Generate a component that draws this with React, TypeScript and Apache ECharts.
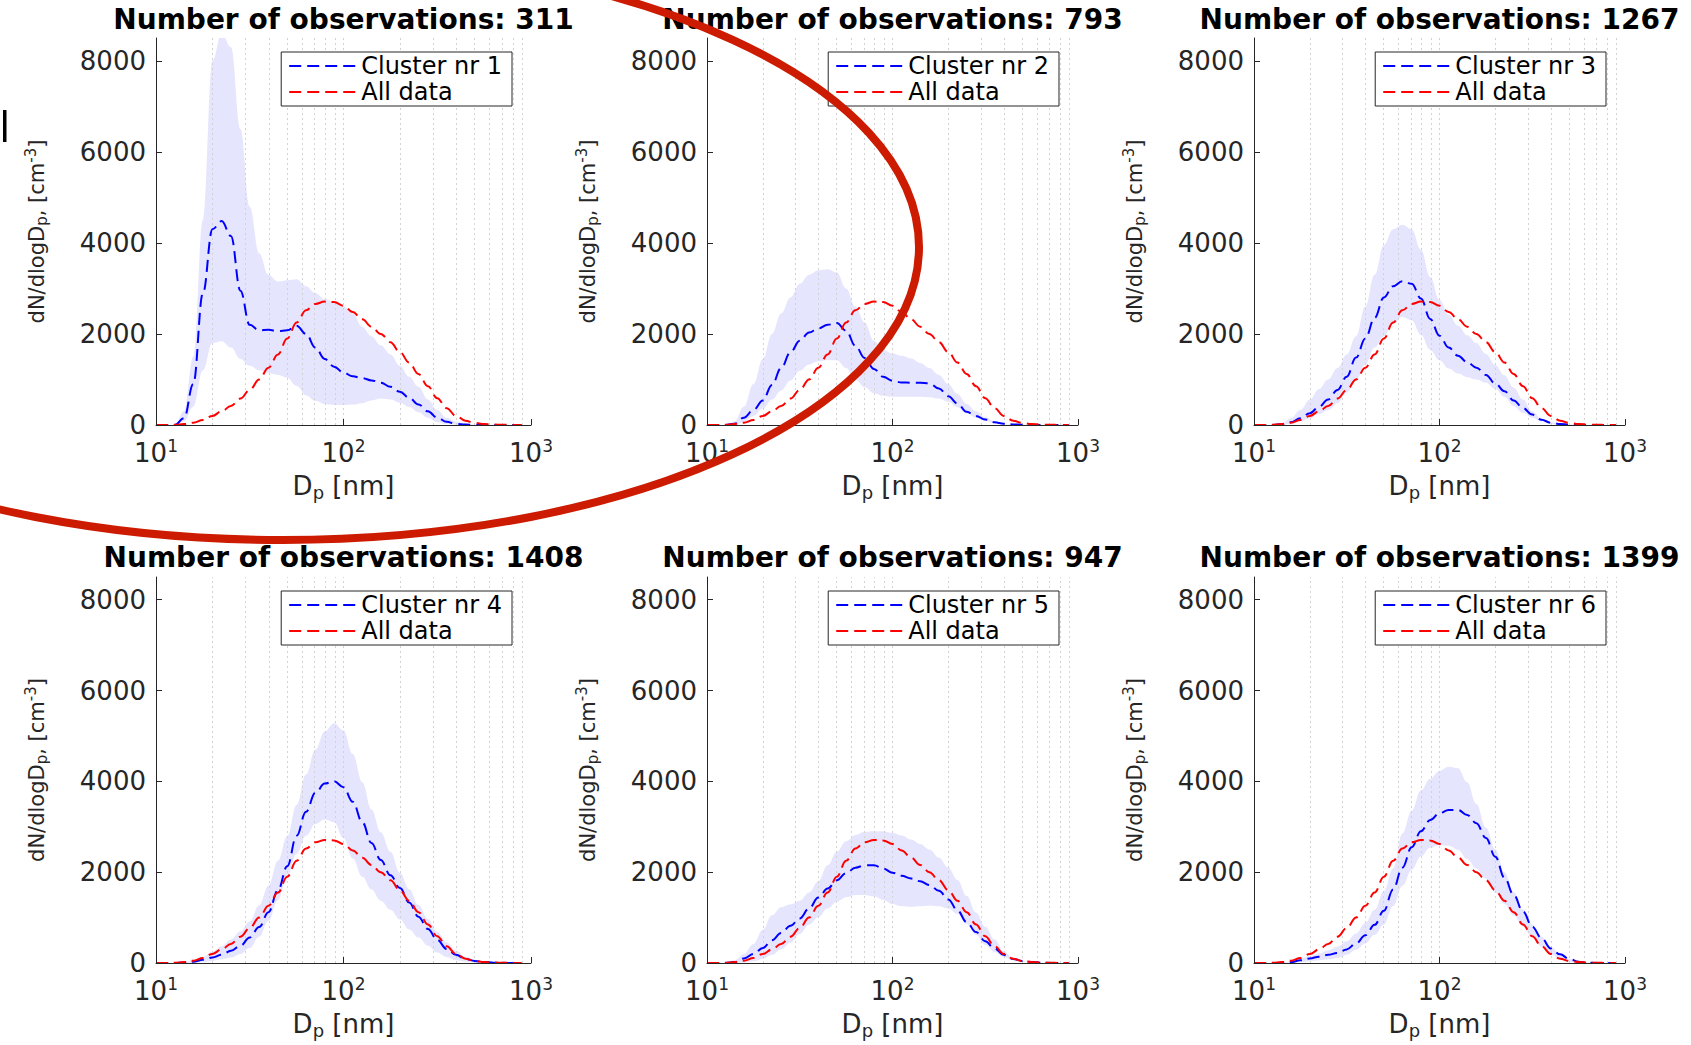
import React, { useEffect, useRef } from 'react';
import * as echarts from 'echarts';

// ---------------- data ----------------
const diameters = [10, 11.2, 12.6, 14.1, 15.8, 17.8, 20, 22.4, 25.1, 28.2, 31.6, 35.5, 39.8, 44.7, 50.1, 56.2, 63.1, 70.8, 79.4, 89.1, 100, 112, 126, 141, 158, 178, 200, 224, 251, 282, 316, 355, 398, 447, 501, 562, 631, 708, 794, 891];

const allData = [0, 0, 5, 20, 50, 110, 200, 300, 420, 580, 770, 1000, 1260, 1550, 1900, 2250, 2520, 2660, 2710, 2700, 2620, 2480, 2320, 2160, 2000, 1820, 1600, 1370, 1120, 850, 590, 370, 200, 95, 45, 20, 10, 5, 2, 0];

const cluster1 = [0, 0, 0, 150, 900, 2900, 4300, 4480, 4150, 2950, 2200, 2080, 2090, 2060, 2080, 2180, 2000, 1700, 1450, 1280, 1150, 1070, 1030, 980, 930, 840, 730, 600, 450, 300, 160, 70, 25, 10, 5, 2, 0, 0, 0, 0];
const band1Lower = [0, 0, 0, 80, 400, 1200, 1800, 1840, 1700, 1450, 1300, 1200, 1140, 1100, 1040, 860, 650, 530, 460, 440, 440, 450, 480, 540, 580, 560, 490, 400, 280, 160, 60, 20, 5, 0, 0, 0, 0, 0, 0, 0];
const band1Upper = [0, 0, 0, 300, 1500, 4500, 8000, 8600, 8300, 6500, 4800, 3770, 3300, 3150, 3180, 3200, 3050, 2900, 2760, 2700, 2600, 2450, 2150, 1950, 1750, 1550, 1300, 1060, 840, 560, 330, 160, 73, 25, 8, 0, 0, 0, 0, 0];

const cluster2 = [0, 0, 0, 30, 160, 330, 540, 880, 1250, 1600, 1850, 2030, 2120, 2200, 2240, 2070, 1740, 1470, 1230, 1060, 970, 935, 930, 930, 915, 800, 630, 470, 290, 200, 120, 60, 30, 12, 5, 2, 0, 0, 0, 0];
const band2Lower = [0, 0, 0, 10, 60, 200, 360, 560, 760, 980, 1190, 1330, 1400, 1430, 1420, 1250, 1000, 830, 700, 640, 620, 620, 620, 620, 610, 580, 510, 390, 250, 160, 90, 45, 15, 5, 0, 0, 0, 0, 0, 0];
const band2Upper = [0, 0, 0, 80, 400, 900, 1450, 2000, 2450, 2800, 3100, 3300, 3400, 3420, 3350, 3000, 2600, 2250, 1850, 1650, 1570, 1520, 1460, 1360, 1250, 1100, 900, 680, 460, 300, 170, 80, 35, 15, 5, 0, 0, 0, 0, 0];

const cluster3 = [0, 0, 0, 20, 60, 150, 260, 400, 560, 770, 1060, 1480, 1900, 2350, 2800, 3050, 3160, 3100, 2780, 2330, 1960, 1700, 1520, 1380, 1260, 1100, 910, 740, 540, 370, 230, 115, 50, 20, 10, 5, 2, 0, 0, 0];
const band3Lower = [0, 0, 0, 10, 30, 80, 150, 240, 330, 480, 720, 980, 1330, 1700, 1950, 2230, 2370, 2300, 1980, 1650, 1420, 1240, 1130, 1050, 1000, 930, 790, 620, 420, 270, 160, 80, 30, 10, 0, 0, 0, 0, 0, 0];
const band3Upper = [0, 0, 0, 40, 150, 330, 560, 790, 1000, 1250, 1550, 1950, 2600, 3300, 3950, 4300, 4400, 4300, 3850, 3250, 2750, 2420, 2180, 1970, 1800, 1560, 1320, 1090, 820, 560, 300, 140, 60, 25, 10, 5, 2, 0, 0, 0];

const cluster4 = [0, 0, 0, 10, 30, 70, 120, 180, 270, 380, 560, 790, 1120, 1600, 2130, 2800, 3330, 3750, 3950, 4000, 3870, 3550, 3100, 2640, 2270, 1930, 1650, 1330, 1020, 750, 510, 310, 180, 90, 45, 20, 8, 3, 0, 0];
const band4Lower = [0, 0, 0, 0, 10, 25, 45, 80, 120, 200, 330, 580, 930, 1390, 1900, 2400, 2800, 3060, 3160, 3100, 2750, 2300, 1900, 1620, 1370, 1170, 960, 740, 560, 380, 230, 130, 60, 25, 10, 0, 0, 0, 0, 0];
const band4Upper = [0, 0, 0, 20, 60, 140, 250, 370, 520, 700, 920, 1270, 1700, 2250, 2790, 3480, 4150, 4700, 5100, 5280, 5120, 4600, 3980, 3380, 2880, 2450, 1990, 1630, 1280, 970, 690, 450, 270, 140, 70, 30, 10, 3, 0, 0];

const cluster5 = [0, 0, 0, 20, 100, 200, 330, 500, 660, 820, 980, 1200, 1440, 1640, 1820, 1980, 2100, 2150, 2150, 2080, 1990, 1920, 1860, 1800, 1720, 1590, 1400, 1160, 900, 680, 480, 320, 180, 90, 45, 20, 8, 0, 0, 0];
const band5Lower = [0, 0, 0, 0, 10, 40, 90, 180, 300, 450, 640, 850, 1010, 1200, 1350, 1450, 1500, 1500, 1470, 1390, 1300, 1250, 1240, 1250, 1260, 1250, 1200, 1080, 860, 620, 400, 240, 130, 60, 20, 5, 0, 0, 0, 0];
const band5Upper = [0, 0, 0, 60, 200, 420, 730, 1050, 1230, 1290, 1370, 1550, 1800, 2150, 2450, 2680, 2820, 2890, 2900, 2900, 2860, 2810, 2720, 2620, 2500, 2320, 2100, 1830, 1480, 1110, 800, 520, 260, 110, 40, 15, 0, 0, 0, 0];

const cluster6 = [0, 0, 0, 5, 20, 60, 100, 140, 180, 220, 300, 430, 610, 840, 1150, 1620, 2100, 2550, 2900, 3150, 3300, 3370, 3370, 3260, 3080, 2750, 2340, 1880, 1500, 1130, 800, 550, 320, 190, 90, 30, 8, 0, 0, 0];
const band6Lower = [0, 0, 0, 0, 5, 20, 40, 60, 80, 110, 180, 290, 430, 620, 850, 1250, 1700, 2050, 2350, 2540, 2600, 2580, 2490, 2290, 2080, 1860, 1560, 1300, 1050, 800, 570, 360, 200, 95, 30, 10, 0, 0, 0, 0];
const band6Upper = [0, 0, 0, 10, 40, 100, 150, 210, 280, 360, 480, 650, 880, 1170, 1580, 2080, 2850, 3350, 3800, 4060, 4230, 4320, 4290, 3980, 3500, 2980, 2500, 2000, 1560, 1180, 850, 580, 360, 200, 90, 35, 8, 0, 0, 0];

const observations = [311, 793, 1267, 1408, 947, 1399];
const clusterLabels = ['Cluster nr 1', 'Cluster nr 2', 'Cluster nr 3', 'Cluster nr 4', 'Cluster nr 5', 'Cluster nr 6'];
const allDataLabel = 'All data';
const yTickValues = [0, 2000, 4000, 6000, 8000];
const minorGridDiameters = [20, 30, 40, 50, 60, 70, 80, 90, 100, 200, 300, 400, 500, 600, 700, 800, 900];

const clusterMeans = [cluster1, cluster2, cluster3, cluster4, cluster5, cluster6];
const bandLowers = [band1Lower, band2Lower, band3Lower, band4Lower, band5Lower, band6Lower];
const bandUppers = [band1Upper, band2Upper, band3Upper, band4Upper, band5Upper, band6Upper];

// ---------------- layout & style ----------------
const W = 1691;
const H = 1045;
const PANEL_LEFT = [156, 707, 1254];
const PANEL_WIDTH = [375, 371, 371];
const PANEL_TOP = [38, 577];
const PANEL_HEIGHT = [387, 386];
const TITLE_TOP = [5, 543];
const LEGEND_TOP = [52, 591];
const FONT = 'DejaVu Sans';
const AXIS = '#262626';
const BLUE = '#0000ff';
const RED = '#ff0000';
const BAND = '#e5e5fd';

function pairs(ys: number[]) {
  return diameters.map((d, k) => [d, ys[k]]);
}

function buildOption() {
  const grid: any[] = [];
  const xAxis: any[] = [];
  const yAxis: any[] = [];
  const series: any[] = [];
  const title: any[] = [];
  const legend: any[] = [];

  for (let i = 0; i < 6; i++) {
    const col = i % 3;
    const row = Math.floor(i / 3);
    const left = PANEL_LEFT[col];
    const width = PANEL_WIDTH[col];
    grid.push({
      left,
      top: PANEL_TOP[row],
      width,
      height: PANEL_HEIGHT[row],
      containLabel: false,
      outerBoundsMode: 'none',
    });

    xAxis.push({
      type: 'log',
      logBase: 10,
      min: 10,
      max: 1000,
      gridIndex: i,
      z: 10,
      axisLine: { show: true, lineStyle: { color: AXIS, width: 1 } },
      axisTick: { show: true, inside: true, length: 6, lineStyle: { color: AXIS } },
      splitLine: { show: false },
      axisLabel: {
        margin: 12,
        formatter: (v: number) => `{b|10}{s|${Math.round(Math.log10(v))}}`,
        rich: {
          b: { fontSize: 26, fontFamily: FONT, color: AXIS, lineHeight: 30 },
          s: { fontSize: 17, fontFamily: FONT, color: AXIS, padding: [0, 0, 15, 0] },
        },
      },
      name: '{b|D}{s|p}{b| [nm]}',
      nameLocation: 'middle',
      nameGap: 45,
      nameTextStyle: {
        rich: {
          b: { fontSize: 26, fontFamily: FONT, color: AXIS, lineHeight: 30 },
          s: { fontSize: 18, fontFamily: FONT, color: AXIS, padding: [13, 0, 0, 0] },
        },
      },
    });

    yAxis.push({
      type: 'value',
      min: 0,
      max: 8500,
      interval: 2000,
      gridIndex: i,
      z: 10,
      axisLine: { show: true, lineStyle: { color: AXIS, width: 1 } },
      axisTick: { show: true, inside: true, length: 6, lineStyle: { color: AXIS }, customValues: yTickValues },
      splitLine: { show: false },
      axisLabel: {
        margin: 10,
        fontSize: 26,
        fontFamily: FONT,
        color: AXIS,
        customValues: yTickValues,
        formatter: (v: number) => (v % 2000 === 0 ? String(v) : ''),
      },
      name: '{a|dN/dlogD}{sub|p}{a|, [cm}{sup|-3}{a|]}',
      nameLocation: 'middle',
      nameGap: 106,
      nameTextStyle: {
        rich: {
          a: { fontSize: 21, fontFamily: FONT, color: AXIS, lineHeight: 26 },
          sub: { fontSize: 15, fontFamily: FONT, color: AXIS, padding: [10, 0, 0, 0] },
          sup: { fontSize: 15, fontFamily: FONT, color: AXIS, padding: [0, 0, 12, 0] },
        },
      },
    });

    const common = {
      type: 'line',
      xAxisIndex: i,
      yAxisIndex: i,
      symbol: 'none',
      smooth: 0.4,
      smoothMonotone: 'x',
      silent: true,
      animation: false,
    };

    // band: upper boundary filled with the band colour ...
    series.push({
      ...common,
      name: `band-upper-${i + 1}`,
      data: pairs(bandUppers[i]),
      lineStyle: { width: 0, opacity: 0 },
      areaStyle: { color: BAND, opacity: 1 },
      z: 1,
    });
    // ... and the area under the lower boundary painted back with the background
    series.push({
      ...common,
      name: `band-lower-${i + 1}`,
      data: pairs(bandLowers[i]),
      lineStyle: { width: 0, opacity: 0 },
      areaStyle: { color: '#ffffff', opacity: 1 },
      z: 1,
      markLine: {
        silent: true,
        z: 2,
        symbol: ['none', 'none'],
        label: { show: false },
        lineStyle: { type: [2, 3], color: '#d2d2d2', width: 1 },
        emphasis: { disabled: true },
        animation: false,
        data: minorGridDiameters.map((d) => ({ xAxis: d })),
      },
    });
    series.push({
      ...common,
      name: clusterLabels[i],
      data: pairs(clusterMeans[i]),
      lineStyle: { color: BLUE, width: 2, type: [12, 6] },
      itemStyle: { color: BLUE },
      z: 3,
    });
    series.push({
      ...common,
      name: allDataLabel,
      data: pairs(allData),
      lineStyle: { color: RED, width: 2, type: [12, 6] },
      itemStyle: { color: RED },
      z: 4,
    });

    title.push({
      text: `Number of observations: ${observations[i]}`,
      left: left + width / 2,
      top: TITLE_TOP[row],
      textAlign: 'center',
      padding: 0,
      textStyle: { fontFamily: FONT, fontWeight: 'bold', fontSize: 28, color: '#000' },
    });

    legend.push({
      data: [clusterLabels[i], allDataLabel],
      orient: 'vertical',
      right: W - (left + width - 19),
      top: LEGEND_TOP[row],
      itemWidth: 67,
      itemHeight: 14,
      itemGap: 2,
      padding: [2, 10, 2, 7],
      borderColor: AXIS,
      borderWidth: 1,
      backgroundColor: '#ffffff',
      selectedMode: false,
      itemStyle: { color: 'rgba(0,0,0,0)', borderColor: 'rgba(0,0,0,0)', borderWidth: 0, opacity: 0 },
      textStyle: { fontFamily: FONT, fontSize: 24, color: '#000', lineHeight: 24 },
    });
  }

  return {
    animation: false,
    backgroundColor: '#ffffff',
    textStyle: { fontFamily: FONT },
    title,
    legend,
    grid,
    xAxis,
    yAxis,
    series,
    graphic: [
      {
        type: 'ellipse',
        silent: true,
        z: 100,
        shape: { cx: 283, cy: 247, rx: 636, ry: 293 },
        style: { fill: 'none', stroke: '#cc1b00', lineWidth: 8 },
      },
      {
        type: 'rect',
        silent: true,
        z: 100,
        shape: { x: 3, y: 110, width: 3.5, height: 32 },
        style: { fill: '#000000' },
      },
    ],
  };
}

export default function App() {
  const ref = useRef<HTMLDivElement>(null);
  useEffect(() => {
    document.body.style.margin = '0';
    if (!ref.current) return;
    const chart = echarts.init(ref.current, undefined, { renderer: 'svg' });
    chart.setOption(buildOption() as any);
    return () => chart.dispose();
  }, []);
  return <div ref={ref} style={{ width: W, height: H, background: '#fff' }} />;
}
